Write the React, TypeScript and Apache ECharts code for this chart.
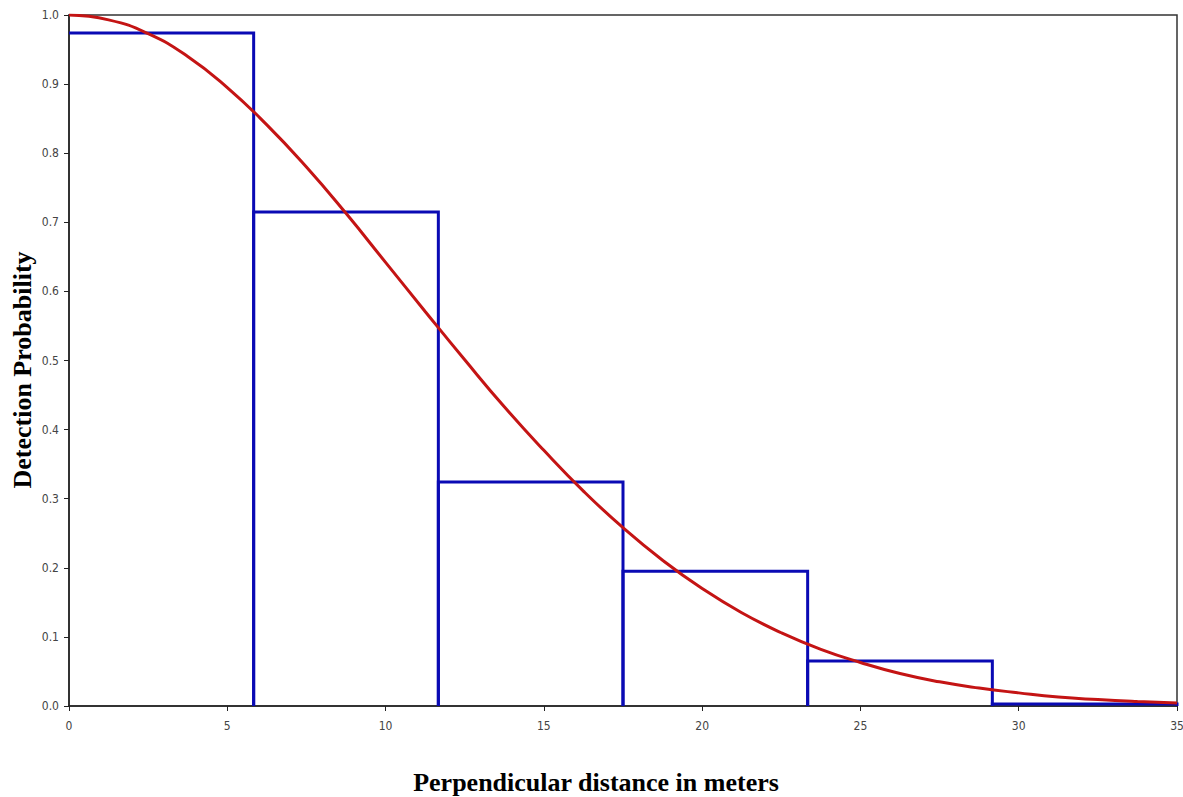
import React, { useEffect, useRef } from "react";
import * as echarts from "echarts";

const binStarts = [0, 5.833, 11.667, 17.5, 23.333, 29.167];
const binEnds = [5.833, 11.667, 17.5, 23.333, 29.167, 35];
const binHeights = [0.974, 0.715, 0.324, 0.195, 0.065, 0.003];

const curveX = [0, 1.25, 2.5, 3.75, 5, 6.25, 7.5, 8.75, 10, 11.25, 12.5, 13.75, 15, 16.25, 17.5, 18.75, 20, 21.25, 22.5, 23.75, 25, 26.25, 27.5, 28.75, 30, 31.25, 32.5, 33.75, 35];
const curveY = [1.0, 0.993, 0.973, 0.940, 0.895, 0.841, 0.780, 0.713, 0.642, 0.571, 0.501, 0.433, 0.370, 0.311, 0.258, 0.211, 0.170, 0.135, 0.106, 0.082, 0.063, 0.047, 0.035, 0.026, 0.019, 0.013, 0.0093, 0.0065, 0.0044];

const xTicks = [0, 5, 10, 15, 20, 25, 30, 35];
const xTitle = "Perpendicular distance in meters";
const yTitle = "Detection Probability";

export default function App() {
  const ref = useRef<HTMLDivElement>(null);
  useEffect(() => {
    if (!ref.current) return;
    const chart = echarts.init(ref.current, null, { renderer: "svg" });
    const labelFont = "'Liberation Sans Narrow', 'Arial Narrow', 'DejaVu Sans Condensed', sans-serif";
    const titleFont = "'Liberation Serif', 'Times New Roman', serif";
    chart.setOption({
      animation: false,
      backgroundColor: "#fff",
      grid: {
        left: 69,
        right: 6,
        top: 15,
        bottom: 91,
        containLabel: false,
        outerBoundsMode: "none",
        show: true,
        borderColor: "#333",
        borderWidth: 1.5,
      },
      graphic: [
        {
          type: "text",
          x: 596,
          y: 782,
          style: {
            text: xTitle,
            font: `bold 26px ${titleFont}`,
            fill: "#000",
            textAlign: "center",
            textVerticalAlign: "middle",
          },
        },
        {
          type: "text",
          x: 22,
          y: 370,
          rotation: Math.PI / 2,
          style: {
            text: yTitle,
            font: `bold 26px ${titleFont}`,
            fill: "#000",
            textAlign: "center",
            textVerticalAlign: "middle",
          },
        },
      ],
      xAxis: {
        type: "value",
        min: 0,
        max: 35,
        interval: 5,
        axisLine: { show: true, lineStyle: { color: "#222", width: 1.5 } },
        axisTick: { show: true, length: 5, lineStyle: { color: "#222" } },
        axisLabel: {
          margin: 14,
          fontFamily: labelFont,
          fontSize: 12,
          color: "#444",
          formatter: (v: number) => (xTicks.includes(v) ? String(v) : ""),
        },
        splitLine: { show: false },
      },
      yAxis: {
        type: "value",
        min: 0,
        max: 1,
        interval: 0.1,
        axisLine: { show: true, lineStyle: { color: "#222", width: 1.5 } },
        axisTick: { show: true, length: 5, lineStyle: { color: "#222" } },
        axisLabel: {
          margin: 10,
          fontFamily: labelFont,
          fontSize: 12,
          color: "#444",
          formatter: (v: number) => v.toFixed(1),
        },
        splitLine: { show: false },
      },
      series: [
        {
          type: "custom",
          data: binStarts.map((s, i) => [s, binEnds[i], binHeights[i]]),
          renderItem: (params: any, api: any) => {
            const p0 = api.coord([api.value(0), 0]);
            const p1 = api.coord([api.value(1), api.value(2)]);
            const pts: number[][] = [];
            if (api.value(0) > 0) pts.push([p0[0], p0[1]]);
            pts.push([p0[0], p1[1]], [p1[0], p1[1]], [p1[0], p0[1]]);
            return {
              type: "polyline",
              shape: { points: pts },
              style: { fill: "none", stroke: "#0a0ab4", lineWidth: 3 },
            };
          },
          z: 2,
        },
        {
          type: "line",
          data: curveX.map((x, i) => [x, curveY[i]]),
          smooth: true,
          showSymbol: false,
          lineStyle: { color: "#c41414", width: 3 },
          z: 3,
        },
      ],
    });
    return () => chart.dispose();
  }, []);
  return (
    <div
      ref={ref}
      style={{ position: "absolute", left: 0, top: 0, width: 1183, height: 797 }}
    />
  );
}
